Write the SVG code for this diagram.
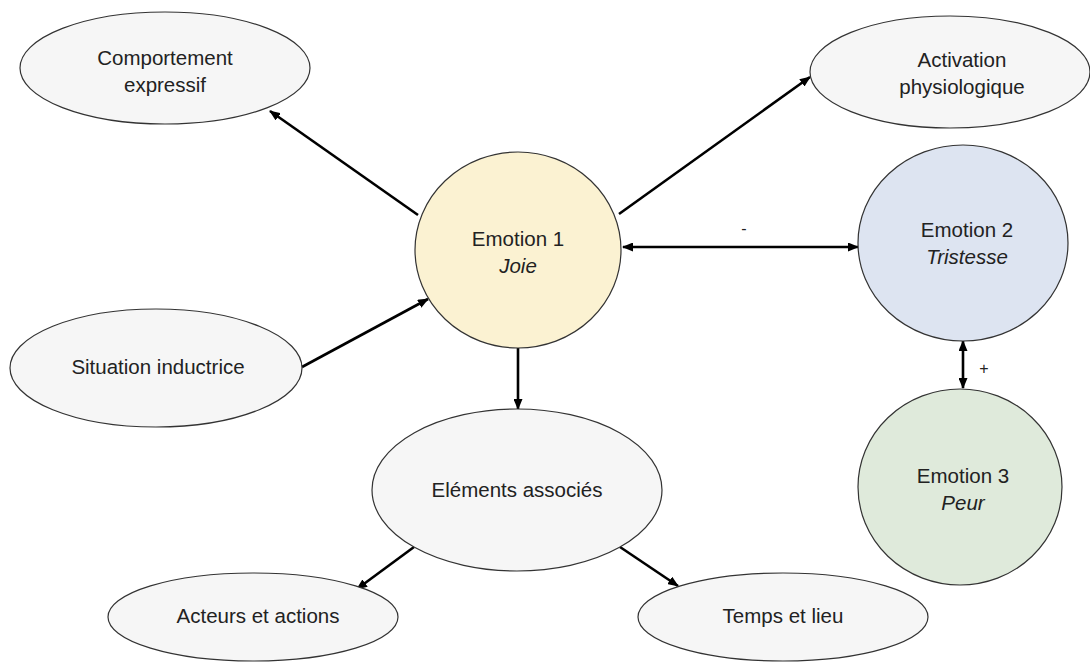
<svg xmlns="http://www.w3.org/2000/svg" width="1090" height="663" viewBox="0 0 1090 663">
<defs>
<marker id="ah" markerWidth="11" markerHeight="9" refX="10" refY="4.5" orient="auto" markerUnits="userSpaceOnUse">
<path d="M0,0 L11,4.5 L0,9 Z" fill="#000"/>
</marker>
<marker id="ahs" markerWidth="11" markerHeight="9" refX="1" refY="4.5" orient="auto" markerUnits="userSpaceOnUse">
<path d="M11,0 L0,4.5 L11,9 Z" fill="#000"/>
</marker>
<style>
.el{fill:#f6f6f6;stroke:#333;stroke-width:1.2}
.e1{fill:#fbf2d2;stroke:#333;stroke-width:1.2}
.e2{fill:#dde4f1;stroke:#333;stroke-width:1.2}
.e3{fill:#dfeadb;stroke:#333;stroke-width:1.2}
text{font-family:"Liberation Sans",Arial,sans-serif;font-size:20.5px;fill:#222;text-anchor:middle}
.it{font-style:italic}
.lbl{font-size:16px}
.c{stroke:#000;stroke-width:2.6;fill:none}
</style>
</defs>
<rect width="1090" height="663" fill="#fff"/>
<g id="connectors">
<line class="c" x1="418" y1="215" x2="270" y2="111" marker-end="url(#ah)"/>
<line class="c" x1="619" y1="214" x2="810" y2="77" marker-end="url(#ah)"/>
<line class="c" x1="623" y1="247" x2="858" y2="247" marker-start="url(#ahs)" marker-end="url(#ah)"/>
<line class="c" x1="302" y1="367" x2="428" y2="299" marker-end="url(#ah)"/>
<line class="c" x1="518" y1="347" x2="518" y2="409" marker-end="url(#ah)"/>
<line class="c" x1="414" y1="547" x2="357" y2="589" marker-end="url(#ah)"/>
<line class="c" x1="620" y1="547" x2="678" y2="586" marker-end="url(#ah)"/>
<line class="c" x1="963" y1="341" x2="963" y2="388" marker-start="url(#ahs)" marker-end="url(#ah)"/>
<text class="lbl" x="744" y="234">-</text>
<text class="lbl" x="984" y="374">+</text>
</g>
<g id="comportement">
<ellipse class="el" cx="165" cy="68" rx="145" ry="56"/>
<text x="165" y="65">Comportement</text>
<text x="165" y="92">expressif</text>
</g>
<g id="activation">
<ellipse class="el" cx="950" cy="72" rx="140" ry="56"/>
<text x="962" y="67">Activation</text>
<text x="962" y="94">physiologique</text>
</g>
<g id="emotion1">
<ellipse class="e1" cx="518" cy="250" rx="103" ry="98"/>
<text x="518" y="246">Emotion 1</text>
<text class="it" x="518" y="273">Joie</text>
</g>
<g id="emotion2">
<ellipse class="e2" cx="963" cy="243" rx="105" ry="98"/>
<text x="967" y="237">Emotion 2</text>
<text class="it" x="967" y="264">Tristesse</text>
</g>
<g id="emotion3">
<ellipse class="e3" cx="960" cy="487" rx="102" ry="98"/>
<text x="963" y="483">Emotion 3</text>
<text class="it" x="963" y="510">Peur</text>
</g>
<g id="situation">
<ellipse class="el" cx="156" cy="368" rx="146" ry="59"/>
<text x="158" y="374">Situation inductrice</text>
</g>
<g id="elements">
<ellipse class="el" cx="517" cy="490" rx="145" ry="81"/>
<text x="517" y="497">Eléments associés</text>
</g>
<g id="acteurs">
<ellipse class="el" cx="253" cy="617" rx="145" ry="44"/>
<text x="258" y="623">Acteurs et actions</text>
</g>
<g id="temps">
<ellipse class="el" cx="783" cy="617" rx="145" ry="44"/>
<text x="783" y="623">Temps et lieu</text>
</g>
</svg>
